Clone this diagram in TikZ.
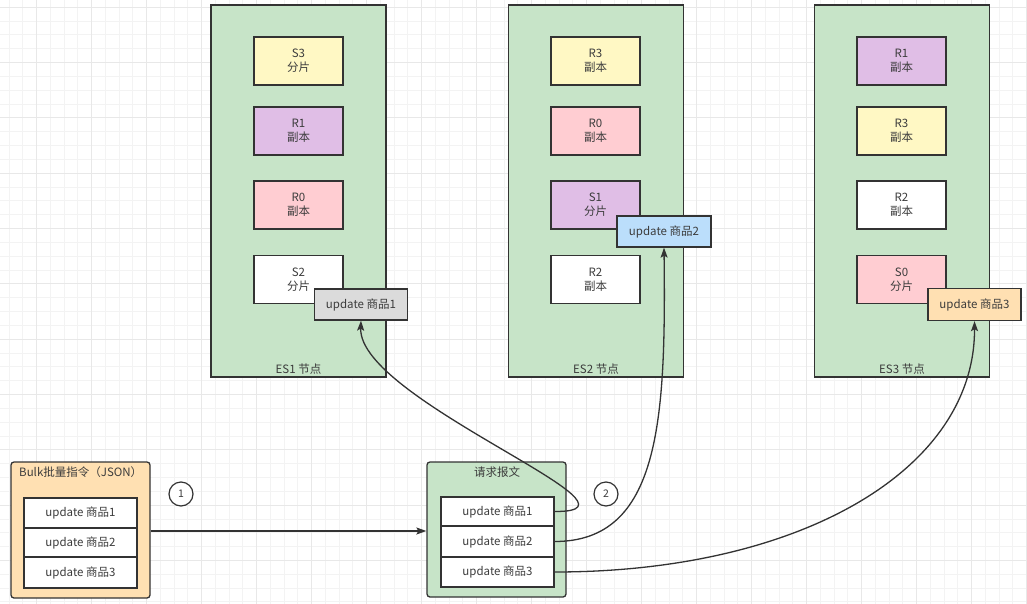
\documentclass[tikz,border=0pt]{standalone}
\usepackage{fontspec}
\setmainfont{Noto Sans CJK SC}
\usetikzlibrary{arrows.meta}
\definecolor{nodegreen}{RGB}{199,228,200}
\definecolor{shyellow}{RGB}{255,248,196}
\definecolor{shpurple}{RGB}{224,190,230}
\definecolor{shpink}{RGB}{255,205,210}
\definecolor{updgray}{RGB}{219,219,219}
\definecolor{updblue}{RGB}{187,222,251}
\definecolor{updorange}{RGB}{255,224,178}
\definecolor{edgedark}{RGB}{51,51,51}
\definecolor{txt}{RGB}{60,60,60}
\definecolor{gridminor}{RGB}{243,243,243}
\definecolor{gridmajor}{RGB}{232,232,232}
\begin{document}
\begin{tikzpicture}[x=1pt,y=-1pt,
  esnode/.style={draw=edgedark,line width=1.3pt,fill=nodegreen,minimum width=175pt,minimum height=372pt,inner sep=0pt},
  shard/.style={draw=edgedark,line width=1.3pt,minimum width=89pt,minimum height=48pt,inner sep=0pt,align=center,text=txt,font=\fontsize{11.5}{14}\selectfont},
  upd/.style={draw=edgedark,line width=1.3pt,minimum width=93pt,minimum height=31pt,inner sep=0pt,text=txt,font=\fontsize{11.5}{14}\selectfont},
  group/.style={draw=edgedark,line width=1.3pt,rounded corners=3pt,minimum width=139pt,minimum height=136pt,inner sep=0pt},
  row/.style={draw=edgedark,line width=1.3pt,fill=white,minimum width=113pt,minimum height=30pt,inner sep=0pt,text=txt,font=\fontsize{11.5}{14}\selectfont},
  lbl/.style={text=txt,inner sep=0pt,font=\fontsize{11.5}{14}\selectfont},
  stepnum/.style={draw=edgedark,line width=1.2pt,circle,minimum size=24pt,inner sep=0pt,fill=white,text=txt,font=\fontsize{10.5}{12}\selectfont},
  conn/.style={draw=edgedark,line width=1.3pt,-{Stealth[length=10pt,width=7pt,inset=2pt]}}
]
\useasboundingbox (0,0) rectangle (1027,604);
\fill[white] (0,0) rectangle (1027,604);
% grid
\foreach \i in {0,...,74} {\draw[gridminor,line width=1pt] ({9.2+13.75*\i},0) -- ({9.2+13.75*\i},604);}
\foreach \i in {0,...,43} {\draw[gridminor,line width=1pt] (0,{7.3+13.83*\i}) -- (1027,{7.3+13.83*\i});}
\foreach \i in {0,...,18} {\draw[gridmajor,line width=1pt] ({36.7+55*\i},0) -- ({36.7+55*\i},604);}
\foreach \i in {0,...,10} {\draw[gridmajor,line width=1pt] (0,{7.3+55.33*\i}) -- (1027,{7.3+55.33*\i});}

% ES nodes
\node[esnode] (es1) at (298.5,191) {};
\node[esnode] (es2) at (596,191) {};
\node[esnode] (es3) at (902,191) {};
\node[lbl,anchor=base] (es1l) at (298.5,373) {ES1 节点};
\node[lbl,anchor=base] (es2l) at (596,373) {ES2 节点};
\node[lbl,anchor=base] (es3l) at (902,373) {ES3 节点};

% shards ES1
\node[shard,fill=shyellow] (a1) at (298.5,61) {S3\\分片};
\node[shard,fill=shpurple] (a2) at (298.5,131) {R1\\副本};
\node[shard,fill=shpink] (a3) at (298.5,205) {R0\\副本};
\node[shard,fill=white] (a4) at (298.5,279.5) {S2\\分片};
% shards ES2
\node[shard,fill=shyellow] (b1) at (595.5,61) {R3\\副本};
\node[shard,fill=shpink] (b2) at (595.5,131) {R0\\副本};
\node[shard,fill=shpurple] (b3) at (595.5,205) {S1\\分片};
\node[shard,fill=white] (b4) at (595.5,279.5) {R2\\副本};
% shards ES3
\node[shard,fill=shpurple] (c1) at (901.5,61) {R1\\副本};
\node[shard,fill=shyellow] (c2) at (901.5,131) {R3\\副本};
\node[shard,fill=white] (c3) at (901.5,205) {R2\\副本};
\node[shard,fill=shpink] (c4) at (901.5,279.5) {S0\\分片};

% update boxes
\node[upd,fill=updgray] (u1) at (361,304.5) {update 商品1};
\node[upd,fill=updblue,minimum width=94pt] (u2) at (664,231.5) {update 商品2};
\node[upd,fill=updorange,minimum height=32pt] (u3) at (974.5,304.5) {update 商品3};

% bulk group
\node[group,fill=updorange] (bulk) at (80.5,530) {};
\node[lbl,anchor=west] (bulkt) at (19,472) {Bulk批量指令（JSON）};
\node[row] (q1) at (80.5,513) {update 商品1};
\node[row,minimum height=29pt] (q2) at (80.5,542.5) {update 商品2};
\node[row,minimum height=31pt] (q3) at (80.5,572.5) {update 商品3};

% request group
\node[group,fill=nodegreen,minimum height=135pt] (req) at (496.5,529.5) {};
\node[lbl] (reqt) at (497,472) {请求报文};
\node[row,minimum height=29pt] (r1) at (497.5,511.5) {update 商品1};
\node[row,minimum height=31pt] (r2) at (497.5,541.5) {update 商品2};
\node[row] (r3) at (497.5,572) {update 商品3};

% step numbers
\node[stepnum] (n1) at (181,494) {1};
\node[stepnum] (n2) at (606,494) {2};

% connectors
\draw[conn] (bulk.east |- 0,531) coordinate (bo) -- (req.west |- 0,531);
\draw[conn] (r1.east) .. controls (665,512) and (358,400) .. (u1.south);
\draw[conn] (r2.east) .. controls (660,541.5) and (666,420) .. (u2.south);
\draw[conn] (r3.east) .. controls (800,572) and (975,470) .. (u3.south);
\end{tikzpicture}
\end{document}
